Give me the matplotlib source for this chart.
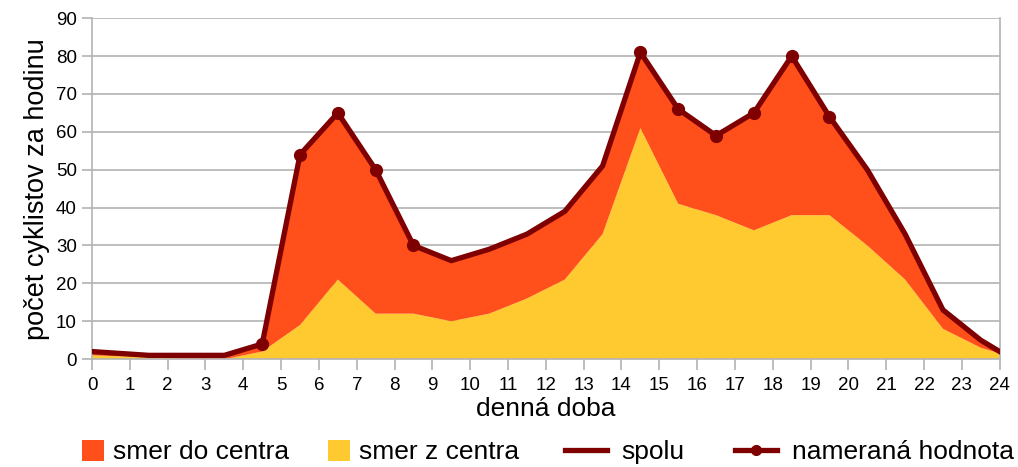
import matplotlib
matplotlib.use("Agg")
import matplotlib.pyplot as plt
from matplotlib.lines import Line2D
from matplotlib.patches import Patch

hours = [0, 1.5, 2.5, 3.5, 4.5, 5.5, 6.5, 7.5, 8.5, 9.5, 10.5, 11.5, 12.5,
         13.5, 14.5, 15.5, 16.5, 17.5, 18.5, 19.5, 20.5, 21.5, 22.5, 23.5, 24]
spolu = [2, 1, 1, 1, 4, 54, 65, 50, 30, 26, 29, 33, 39,
         51, 81, 66, 59, 65, 80, 64, 50, 33, 13, 5, 2]
smer_z_centra = [1, 0.5, 0, 0, 2, 9, 21, 12, 12, 10, 12, 16, 21,
                 33, 61, 41, 38, 34, 38, 38, 30, 21, 8, 3, 1.5]
smer_do_centra = [t - z for t, z in zip(spolu, smer_z_centra)]
measured_hours = [4.5, 5.5, 6.5, 7.5, 8.5, 14.5, 15.5, 16.5, 17.5, 18.5, 19.5]
measured_values = [4, 54, 65, 50, 30, 81, 66, 59, 65, 80, 64]
x_ticks = list(range(0, 25))
y_ticks = list(range(0, 91, 10))

c_do = "#FF4F1A"
c_z = "#FFC930"
c_line = "#7F0000"
grid_c = "#b3b3b3"

plt.rcParams['font.family'] = ['Liberation Sans', 'DejaVu Sans']

fig = plt.figure(figsize=(10.18, 4.67), dpi=100)
ax = fig.add_axes([0.0904, 0.231, 0.8916, 0.730])

ax.stackplot(hours, smer_z_centra, smer_do_centra, colors=[c_z, c_do], linewidth=0, zorder=2)
ax.plot(hours, spolu, color=c_line, lw=3.8, solid_joinstyle='round', zorder=3)
ax.plot(measured_hours, measured_values, linestyle='none', marker='o', ms=8.5,
        color=c_line, zorder=4)

ax.set_xlim(0, 24)
ax.set_ylim(0, 90)
ax.set_xticks(x_ticks)
ax.set_yticks(y_ticks)
ax.yaxis.grid(True, color=grid_c, lw=1.2, zorder=1)
ax.set_axisbelow(True)
for s in ['left', 'right', 'bottom']:
    ax.spines[s].set_color(grid_c)
    ax.spines[s].set_linewidth(1.2)
ax.spines['top'].set_visible(False)
ax.tick_params(axis='both', colors=grid_c, labelcolor='black', labelsize=13.5, width=1.2)
ax.tick_params(axis='x', length=8, pad=5)
ax.tick_params(axis='y', length=7, pad=4)

ax.set_xlabel("denná doba", fontsize=19, labelpad=2)
ax.set_ylabel("počet cyklistov za hodinu", fontsize=19.5, labelpad=4)

entries = [
    (Patch(facecolor=c_do, edgecolor='none'), "smer do centra", 82, 0.83, 0.35),
    (Patch(facecolor=c_z, edgecolor='none'), "smer z centra", 328, 0.83, 0.35),
    (Line2D([], [], color=c_line, lw=3.8), "spolu", 565, 1.6, 0.55),
    (Line2D([], [], color=c_line, lw=3.8, marker='o', ms=7), "nameraná hodnota", 735, 1.6, 0.55),
]
W = 1018.0
for h, lab, xpx, hl, tp in entries:
    fig.legend([h], [lab], loc='center left', bbox_to_anchor=(xpx / W, 0.032),
               frameon=False, fontsize=19, handlelength=hl, handleheight=0.83,
               handletextpad=tp, borderpad=0, borderaxespad=0)

fig.savefig("out.png", dpi=100)
